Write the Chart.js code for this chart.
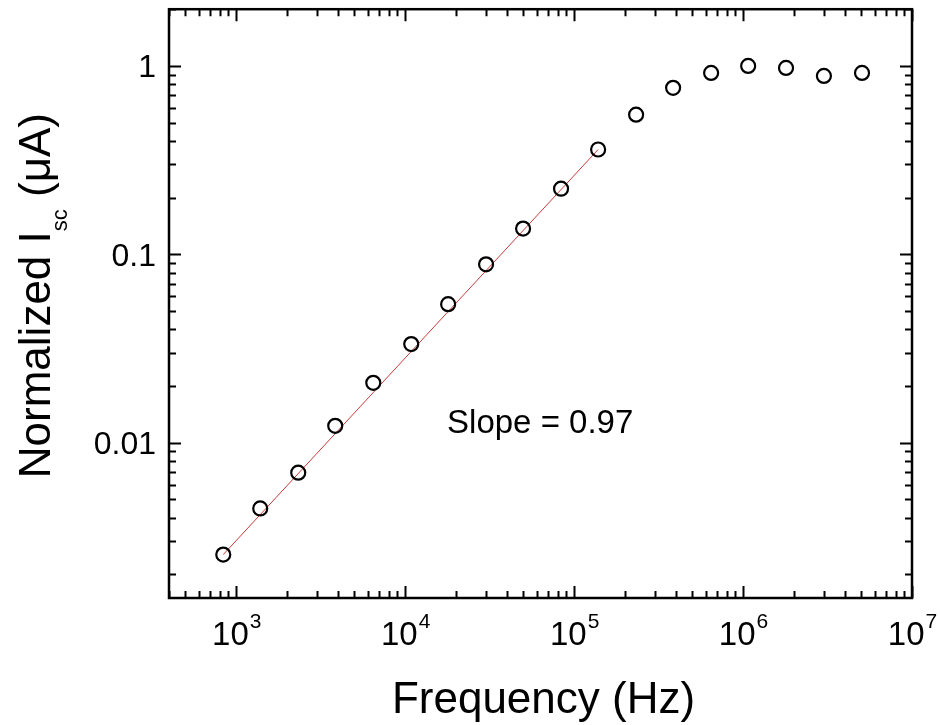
<!DOCTYPE html>
<html>
<head>
<meta charset="utf-8">
<script src="https://cdn.jsdelivr.net/npm/chart.js@4.4.1/dist/chart.umd.min.js"></script>
<style>
  html, body { margin: 0; padding: 0; background: #fff; }
  #wrap { width: 940px; height: 725px; position: relative; }
</style>
</head>
<body>
<div id="wrap"><canvas id="chart"></canvas></div>
<script>
/* Isc vs frequency – log-log, Origin style */
const freqHz = [838, 1387, 2328, 3854, 6474, 10860, 17960, 30120, 49880, 83700,
                138700, 232800, 385400, 647000, 1072000, 1796000, 3010000, 5060000];
const iscNorm = [0.00255, 0.00448, 0.00694, 0.0123, 0.0208, 0.0334, 0.0544, 0.0885, 0.137, 0.223,
                 0.360, 0.551, 0.765, 0.918, 1.0, 0.976, 0.885, 0.918];

const fitX = [838, 138700];
const fitY = [0.00255, 0.360];

const xMajor = [1e3, 1e4, 1e5, 1e6, 1e7];
const xMajorExp = ['3', '4', '5', '6', '7'];
const yMajor = [0.01, 0.1, 1];
const yMajorLabels = ['0.01', '0.1', '1'];

const X_MIN = 400, X_MAX = 1e7;
const Y_MIN = 0.0015, Y_MAX = 2;

const slopeText = 'Slope = 0.97';
const slopeAt = { x: 17700, y: 0.0113 };

const FONT = '"Liberation Sans", Arial, sans-serif';

const minorTicks = (lo, hi) => {
  const out = [];
  for (let e = Math.floor(Math.log10(lo)); e <= Math.ceil(Math.log10(hi)); e++) {
    for (let m = 1; m <= 9; m++) {
      const v = m * Math.pow(10, e);
      if (v >= lo * 0.999 && v <= hi * 1.001) out.push(v);
    }
  }
  return out;
};

const axesPlugin = {
  id: 'originAxes',
  afterDatasetsDraw(chart) {
    const { ctx, chartArea: a, scales: { x, y } } = chart;
    ctx.save();
    ctx.strokeStyle = '#000';
    ctx.fillStyle = '#000';

    // ticks (inward, all sides)
    ctx.lineWidth = 2;
    const MAJ = 12, MIN = 7;
    minorTicks(X_MIN, X_MAX).forEach(v => {
      const px = Math.round(x.getPixelForValue(v)) + 0.5;
      const len = xMajor.includes(v) ? MAJ : MIN;
      ctx.beginPath();
      ctx.moveTo(px, a.bottom); ctx.lineTo(px, a.bottom - len);
      ctx.moveTo(px, a.top); ctx.lineTo(px, a.top + len);
      ctx.stroke();
    });
    minorTicks(Y_MIN, Y_MAX).forEach(v => {
      const py = Math.round(y.getPixelForValue(v)) + 0.5;
      const len = yMajor.some(m => Math.abs(m - v) / m < 1e-6) ? MAJ : MIN;
      ctx.beginPath();
      ctx.moveTo(a.left, py); ctx.lineTo(a.left + len, py);
      ctx.moveTo(a.right, py); ctx.lineTo(a.right - len, py);
      ctx.stroke();
    });

    // frame
    ctx.lineWidth = 2.5;
    ctx.strokeRect(a.left, a.top, a.right - a.left, a.bottom - a.top);

    // y tick labels
    ctx.font = '32px ' + FONT;
    ctx.textAlign = 'right';
    ctx.textBaseline = 'alphabetic';
    yMajor.forEach((v, i) => {
      ctx.fillText(yMajorLabels[i], a.left - 13, y.getPixelForValue(v) + 11.5);
    });

    // x tick labels: 10 + superscript
    xMajor.forEach((v, i) => {
      const px = x.getPixelForValue(v);
      ctx.font = '33px ' + FONT;
      const wBase = ctx.measureText('10').width;
      ctx.font = '21px ' + FONT;
      const wExp = ctx.measureText(xMajorExp[i]).width;
      const left = px - (wBase + wExp) / 2;
      ctx.textAlign = 'left';
      ctx.font = '33px ' + FONT;
      ctx.fillText('10', left, a.bottom + 47);
      ctx.font = '21px ' + FONT;
      ctx.fillText(xMajorExp[i], left + wBase + 1, a.bottom + 30);
    });

    // x title
    ctx.font = '44px ' + FONT;
    ctx.textAlign = 'center';
    ctx.fillText('Frequency (Hz)', (a.left + a.right) / 2 + 3, 713);

    // y title with subscript
    const parts = [
      { t: 'Normalized I', size: 44, dy: 0 },
      { t: 'sc', size: 22, dy: 17 },
      { t: ' (\u03BCA)', size: 44, dy: 0 }
    ];
    let total = 0;
    parts.forEach(p => { ctx.font = p.size + 'px ' + FONT; p.w = ctx.measureText(p.t).width; total += p.w; });
    ctx.translate(50, (a.top + a.bottom) / 2 - 8);
    ctx.rotate(-Math.PI / 2);
    ctx.textAlign = 'left';
    let cx = -total / 2;
    parts.forEach(p => {
      ctx.font = p.size + 'px ' + FONT;
      ctx.fillText(p.t, cx, p.dy);
      cx += p.w;
    });
    ctx.restore();

    // annotation
    ctx.save();
    ctx.font = '33px ' + FONT;
    ctx.fillStyle = '#000';
    ctx.textAlign = 'left';
    ctx.fillText(slopeText, x.getPixelForValue(slopeAt.x), y.getPixelForValue(slopeAt.y));
    ctx.restore();
  }
};

const pts = freqHz.map((f, i) => ({ x: f, y: iscNorm[i] }));
const fit = fitX.map((f, i) => ({ x: f, y: fitY[i] }));

new Chart(document.getElementById('chart'), {
  type: 'scatter',
  data: {
    datasets: [
      {
        label: 'data',
        data: pts,
        showLine: false,
        pointStyle: 'circle',
        pointRadius: 7,
        pointBorderWidth: 2.2,
        pointBorderColor: '#000',
        pointBackgroundColor: 'rgba(0,0,0,0)'
      },
      {
        label: 'fit',
        data: fit,
        showLine: true,
        borderColor: '#c83c3c',
        borderWidth: 1,
        pointRadius: 0
      }
    ]
  },
  options: {
    responsive: true,
    maintainAspectRatio: false,
    animation: false,
    layout: { padding: { left: 169, right: 28, top: 8, bottom: 127 } },
    plugins: { legend: { display: false }, tooltip: { enabled: false } },
    scales: {
      x: { type: 'logarithmic', min: X_MIN, max: X_MAX, display: false },
      y: { type: 'logarithmic', min: Y_MIN, max: Y_MAX, display: false }
    }
  },
  plugins: [axesPlugin]
});
</script>
</body>
</html>
